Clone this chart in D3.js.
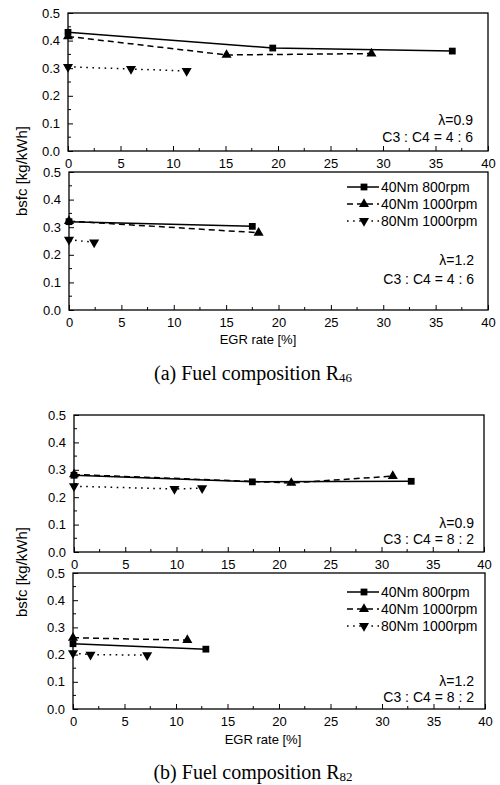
<!DOCTYPE html>
<html><head><meta charset="utf-8">
<script src="https://cdn.jsdelivr.net/npm/d3@7"></script>
<style>body{margin:0;background:#fff}svg{display:block}</style>
</head><body>
<svg id="c" width="500" height="785"></svg>
<script>
// ---- data ----
const seriesNames = ["40Nm 800rpm", "40Nm 1000rpm", "80Nm 1000rpm"];
const xTicks = [0, 5, 10, 15, 20, 25, 30, 35, 40];
const yTicks = [0.0, 0.1, 0.2, 0.3, 0.4, 0.5];
const lambdaLabels = ["\u03bb=0.9", "\u03bb=1.2", "\u03bb=0.9", "\u03bb=1.2"];
const ratioLabels = ["C3 : C4 = 4 : 6", "C3 : C4 = 4 : 6", "C3 : C4 = 8 : 2", "C3 : C4 = 8 : 2"];
const captionMain = ["(a) Fuel composition R", "(b) Fuel composition R"];
const captionSub = ["46", "82"];
const yLabel = "bsfc  [kg/kWh]";
const xLabel = "EGR rate  [%]";

// R46, lambda 0.9
const r46l09_x = [[0, 19.5, 36.6], [0, 15.1, 28.9], [0, 6.0, 11.3]];
const r46l09_y = [[0.430, 0.373, 0.362], [0.415, 0.348, 0.353], [0.305, 0.297, 0.290]];
// R46, lambda 1.2
const r46l12_x = [[0, 17.5], [0, 18.1], [0, 2.4]];
const r46l12_y = [[0.320, 0.303], [0.322, 0.280], [0.255, 0.245]];
// R82, lambda 0.9
const r82l09_x = [[0, 17.4, 32.9], [0, 21.2, 31.1], [0, 9.8, 12.5]];
const r82l09_y = [[0.280, 0.256, 0.258], [0.283, 0.252, 0.277], [0.240, 0.230, 0.233]];
// R82, lambda 1.2
const r82l12_x = [[0, 12.9], [0, 11.1], [0, 1.7, 7.2]];
const r82l12_y = [[0.240, 0.220], [0.262, 0.253], [0.205, 0.200, 0.198]];

// ---- layout ----
const panels = [
  {l: 68, r: 488, t: 13, b: 151, xs: r46l09_x, ys: r46l09_y, legend: false, lamY: 125, ratY: 142, annX: 473},
  {l: 69, r: 488, t: 172, b: 310, xs: r46l12_x, ys: r46l12_y, legend: true, legY: 187, lamY: 265, ratY: 284, annX: 474},
  {l: 74, r: 484, t: 415, b: 552, xs: r82l09_x, ys: r82l09_y, legend: false, lamY: 528, ratY: 544, annX: 474},
  {l: 73, r: 485, t: 573, b: 709, xs: r82l12_x, ys: r82l12_y, legend: true, legY: 592, lamY: 686, ratY: 702, annX: 474}
];
const dashes = [null, "6,4", "1.6,4.5"];
const symbols = [d3.symbolSquare, d3.symbolTriangle, d3.symbolTriangle];
const symSize = [46, 44, 44];
const symRot = [0, 0, 180];
const FONT = "Liberation Sans, Arial, sans-serif";

const svg = d3.select("#c");

function marker(g, i, x, y) {
  g.append("path").attr("d", d3.symbol().type(symbols[i]).size(symSize[i])())
    .attr("transform", `translate(${x},${y}) rotate(${symRot[i]})`)
    .attr("fill", "#000");
}

panels.forEach((p, pi) => {
  const x = d3.scaleLinear().domain([0, 40]).range([p.l, p.r]);
  const y = d3.scaleLinear().domain([0, 0.5]).range([p.b, p.t]);
  const g = svg.append("g");

  // frame
  g.append("rect").attr("x", p.l).attr("y", p.t).attr("width", p.r - p.l).attr("height", p.b - p.t)
    .attr("fill", "none").attr("stroke", "#000").attr("stroke-width", 1.3);

  // x axis (ticks inward)
  const xAx = d3.axisBottom(x).tickValues(xTicks).tickSize(-5).tickPadding(8).tickFormat(d3.format("d"));
  const gx = g.append("g").attr("transform", `translate(0,${p.b})`).call(xAx);
  const xMinor = d3.range(2.5, 40, 5);
  gx.selectAll(".minor").data(xMinor).enter().append("line").attr("class", "minor")
    .attr("x1", d => x(d)).attr("x2", d => x(d)).attr("y1", 0).attr("y2", -3).attr("stroke", "#000");

  // y axis
  const yAx = d3.axisLeft(y).tickValues(yTicks).tickSize(-5).tickPadding(8).tickFormat(d3.format(".1f"));
  const gy = g.append("g").attr("transform", `translate(${p.l},0)`).call(yAx);
  const yMinor = d3.range(0.05, 0.5, 0.1);
  gy.selectAll(".minor").data(yMinor).enter().append("line").attr("class", "minor")
    .attr("y1", d => y(d)).attr("y2", d => y(d)).attr("x1", 0).attr("x2", 3).attr("stroke", "#000");

  [gx, gy].forEach(a => {
    a.select(".domain").remove();
    a.selectAll("text").attr("font-family", FONT).attr("font-size", 13).attr("fill", "#000");
    a.selectAll("line").attr("stroke", "#000").attr("stroke-width", 1);
  });

  // series
  p.xs.forEach((xs, si) => {
    const pts = xs.map((v, k) => [x(v), y(p.ys[si][k])]);
    g.append("path").attr("d", d3.line()(pts)).attr("fill", "none").attr("stroke", "#000")
      .attr("stroke-width", 1.5).attr("stroke-dasharray", dashes[si]);
    pts.forEach(pt => marker(g, si, pt[0], pt[1]));
  });

  // annotations
  g.append("text").attr("x", p.annX).attr("y", p.lamY).attr("text-anchor", "end")
    .attr("font-family", FONT).attr("font-size", 14).text(lambdaLabels[pi]);
  g.append("text").attr("x", p.annX).attr("y", p.ratY).attr("text-anchor", "end")
    .attr("font-family", FONT).attr("font-size", 14).text(ratioLabels[pi]);

  // legend
  if (p.legend) {
    seriesNames.forEach((nm, si) => {
      const ly = p.legY + si * 17;
      g.append("line").attr("x1", 347).attr("x2", 379).attr("y1", ly).attr("y2", ly)
        .attr("stroke", "#000").attr("stroke-width", 1.5).attr("stroke-dasharray", dashes[si]);
      marker(g, si, 364, ly);
      g.append("text").attr("x", 381).attr("y", ly + 5).attr("font-family", FONT)
        .attr("font-size", 14).text(nm);
    });
  }
});

// axis titles
[[22, 171, 258, 344], [22, 572, 263, 744]].forEach(([yx, yy, xx, xy]) => {
  svg.append("text").attr("transform", `translate(${yx + 5},${yy}) rotate(-90)`)
    .attr("text-anchor", "middle").attr("font-family", FONT).attr("font-size", 15).text(yLabel);
  svg.append("text").attr("x", xx).attr("y", xy).attr("text-anchor", "middle")
    .attr("font-family", FONT).attr("font-size", 13).text(xLabel);
});

// captions
[[380], [779]].forEach(([cy], ci) => {
  const t = svg.append("text").attr("x", 253).attr("y", cy).attr("text-anchor", "middle")
    .attr("font-family", "Liberation Serif, Times New Roman, serif").attr("font-size", 20);
  t.append("tspan").text(captionMain[ci]);
  t.append("tspan").attr("font-size", 13).attr("dy", 2).text(captionSub[ci]);
});
</script>
</body></html>
